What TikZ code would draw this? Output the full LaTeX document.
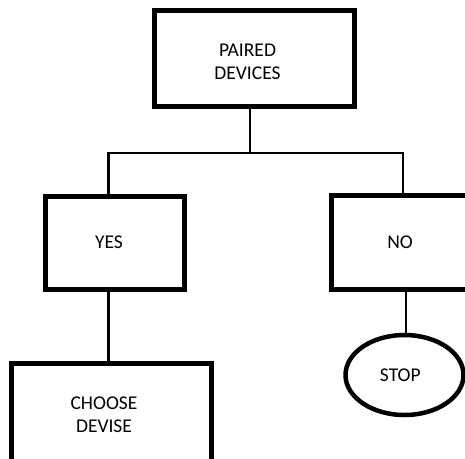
\documentclass[tikz,border=0pt]{standalone}
\usepackage{fontspec}
\setmainfont{Carlito}
\usetikzlibrary{shapes.geometric}
\tikzset{
  box/.style={draw=black, line width=5pt, fill=white, rectangle, inner sep=0pt},
  endoval/.style={draw=black, line width=4.5pt, fill=white, ellipse, inner sep=0pt,
    minimum width=118pt, minimum height=80pt},
  wire/.style={draw=black, line width=2.6pt},
  lbl/.style={inner sep=0pt, align=center, text=black,
    font=\fontsize{19.5}{23.3}\selectfont},
}
\begin{document}
\begin{tikzpicture}[x=1pt, y=-1pt]
  \useasboundingbox (0,0) rectangle (465,458);
  \clip (0,0) rectangle (465,458);

  % junction points of the branching line
  \coordinate (jm) at (250,153);
  \coordinate (jl) at (108.5,153);
  \coordinate (jr) at (403,153);
  \coordinate (js) at (406,300);

  % boxes and the end oval
  \node[box, minimum width=200pt, minimum height=96pt] (paired) at (254.5,58.5) {};
  \node[box, minimum width=139pt, minimum height=93pt] (yes) at (115,243) {};
  \node[box, minimum width=148.5pt, minimum height=94pt] (no) at (405.75,242.5) {};
  \node[box, minimum width=200pt, minimum height=106.5pt] (choose) at (111.5,416.75) {};
  \node[endoval] (stop) at (404.5,375) {};

  % texts (base anchor sits on the last line)
  \node[lbl, anchor=base] (tpaired) at (247.5,79.3) {PAIRED\\DEVICES};
  \node[lbl, anchor=base] (tyes) at (109,248.3) {YES};
  \node[lbl, anchor=base] (tno) at (400,248.3) {NO};
  \node[lbl, anchor=base] (tchoose) at (104,432.7) {CHOOSE\\DEVISE};
  \node[lbl, anchor=base] (tstop) at (400.3,381) {STOP};

  % connectors
  \draw[wire] (jm |- paired.south) -- (jm);
  \draw[wire, line cap=rect] (jl) -- (jr);
  \draw[wire] (jl) -- (jl |- yes.north);
  \draw[wire] (jr) -- (jr |- no.north);
  \draw[wire] (jl |- yes.south) -- (jl |- choose.north);
  \draw[wire] (js |- no.south) -- (js |- stop.north);
\end{tikzpicture}
\end{document}
